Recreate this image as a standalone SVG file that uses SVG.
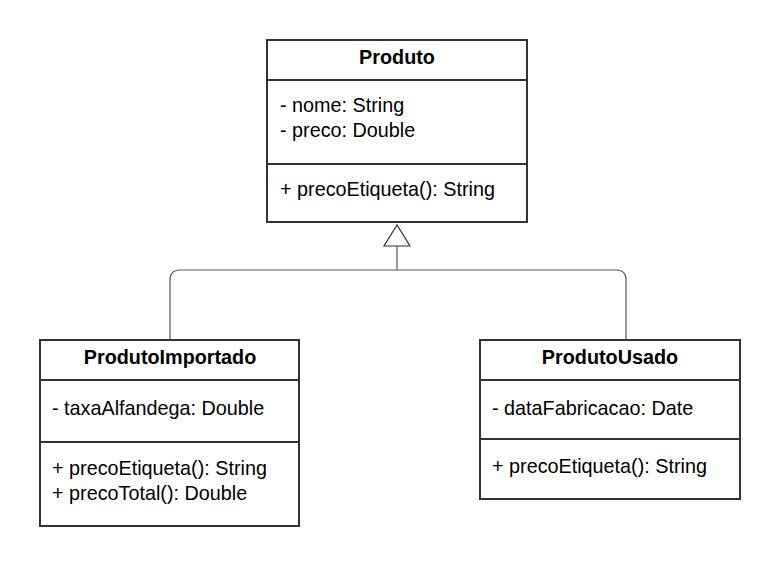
<svg xmlns="http://www.w3.org/2000/svg" width="780" height="567" viewBox="0 0 780 567">
<style>
.box{fill:#fff;stroke:#333;stroke-width:2}
.div{stroke:#333;stroke-width:2}
.t{font-family:"Liberation Sans",Arial,sans-serif;font-size:19.8px;fill:#000}
.b{font-weight:bold;text-anchor:middle}
.con{fill:none;stroke:#555;stroke-width:1.2}
</style>
<rect width="780" height="567" fill="#fff"/>
<g id="connectors">
<path class="con" d="M397 246 V270 M170 340 V280 Q170 270 180 270 H616 Q626 270 626 280 V340"/>
<polygon points="397,225 384,246 410,246" fill="#fff" stroke="#333" stroke-width="1.2"/>
</g>
<g id="Produto">
<rect class="box" x="267" y="40" width="260" height="182"/>
<line class="div" x1="267" y1="80" x2="527" y2="80"/>
<line class="div" x1="267" y1="164" x2="527" y2="164"/>
<text class="t b" x="397" y="64">Produto</text>
<text class="t" x="280" y="112">- nome: String</text>
<text class="t" x="280" y="137">- preco: Double</text>
<text class="t" x="280" y="196">+ precoEtiqueta(): String</text>
</g>
<g id="ProdutoImportado">
<rect class="box" x="40" y="340" width="259" height="186"/>
<line class="div" x1="40" y1="380" x2="299" y2="380"/>
<line class="div" x1="40" y1="442" x2="299" y2="442"/>
<text class="t b" x="170" y="364">ProdutoImportado</text>
<text class="t" x="52" y="415">- taxaAlfandega: Double</text>
<text class="t" x="52" y="475">+ precoEtiqueta(): String</text>
<text class="t" x="52" y="500">+ precoTotal(): Double</text>
</g>
<g id="ProdutoUsado">
<rect class="box" x="480" y="340" width="260" height="159"/>
<line class="div" x1="480" y1="380" x2="740" y2="380"/>
<line class="div" x1="480" y1="439" x2="740" y2="439"/>
<text class="t b" x="610" y="364">ProdutoUsado</text>
<text class="t" x="492" y="415">- dataFabricacao: Date</text>
<text class="t" x="492" y="473">+ precoEtiqueta(): String</text>
</g>
</svg>
